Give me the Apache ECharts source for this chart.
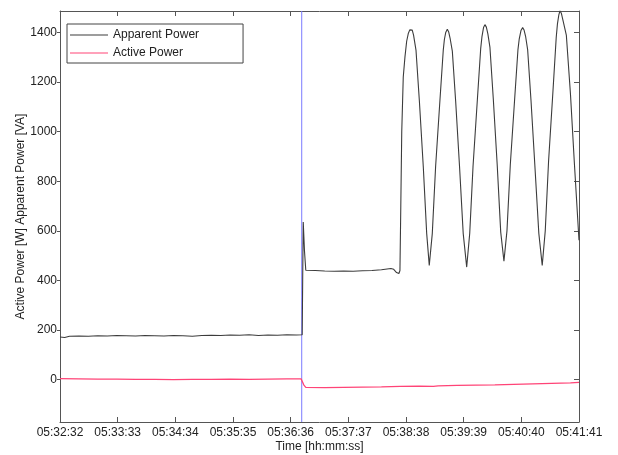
<!DOCTYPE html>
<html>
<head>
<meta charset="utf-8">
<script src="https://cdn.jsdelivr.net/npm/echarts@6/dist/echarts.min.js"></script>
<style>html,body{margin:0;padding:0;background:#fff}#c{width:618px;height:455px}</style>
</head>
<body>
<div id="c"></div>
<script>
// time axis: seconds after 05:32:32
const xTickLabels = ['05:32:32','05:33:33','05:34:34','05:35:35','05:36:36','05:37:37','05:38:38','05:39:39','05:40:40','05:41:41'];
const yTickValues = [0,200,400,600,800,1000,1200,1400];
const eventTime = 255.7;
const yMin = -171;
const yMax = 1487;

const apparentPower = [
 [0,172],[5,170],[10,175],[20,176],[30,175],[40,177],[50,176],[60,178],[70,177],[80,176],[90,178],[100,177],
 [110,176],[120,178],[130,177],[140,175],[150,178],[160,179],[170,178],[180,180],[190,179],[200,181],[210,178],
 [220,180],[230,179],[240,181],[250,180],[256.2,181],
 [256.7,400],[257.3,636],[258.6,520],[260,441],[270,440],[280,438],[290,437],[300,438],[310,437],[320,439],
 [330,440],[340,443],[350,448],[353,445],[356,432],[358.5,428],[359.6,440],
 [360.5,700],[361.5,1000],[363.1,1221],[364.9,1302],[366.7,1365],[368.4,1396],[370,1411],[371.3,1416],
 [372.6,1410],[374,1390],[376.6,1328],[380.1,1127],[384.3,858],[387.9,589],[390.6,461],
 [393.8,589],[397.3,858],[401.9,1127],[405.4,1328],[406.6,1372],[408,1400],[409.7,1413],
 [411.2,1402],[412.6,1378],[415,1325],[418.5,1125],[422.7,855],[426.5,590],[430.2,454],
 [433.4,590],[436.9,860],[441.5,1130],[445,1335],[446.4,1385],[448,1420],[449.5,1432],
 [451,1422],[452.6,1395],[454.8,1340],[458.3,1135],[462.5,865],[466.2,595],[469.6,478],
 [472.8,600],[476.3,865],[480.9,1130],[484.4,1330],[485.8,1375],[487.6,1408],[489.4,1420],
 [490.9,1410],[492.5,1385],[494.7,1330],[498.2,1128],[502.4,858],[506.5,590],[510.1,461],
 [513.3,600],[516.8,880],[521.4,1160],[524.9,1380],[526.2,1435],[527.6,1470],[528.9,1488],
 [530.3,1478],[532,1450],[535.6,1390],[540,1150],[544,880],[549,562]
];

const activePower = [
 [0,4],[20,3],[40,2],[60,2],[80,1],[100,1],[120,0],[140,1],[160,1],[180,2],[200,1],[220,2],[240,3],[255,3],
 [256.5,0],[258,-22],[260,-31],[280,-32],[300,-31],[320,-30],[340,-29],[360,-27],[380,-26],[395,-27],[400,-25],
 [420,-23],[440,-22],[460,-21],[480,-19],[500,-17],[520,-15],[540,-13],[549,-11]
];

const chart = echarts.init(document.getElementById('c'));
const axisColor = '#555';
const font = 'Liberation Sans, Arial, sans-serif';
chart.setOption({
  animation: false,
  backgroundColor: '#fff',
  grid: {left: 60, top: 11, right: 39, bottom: 33, containLabel: false, outerBoundsMode: 'none'},
  legend: {
    show: true,
    left: 67, top: 24, orient: 'vertical',
    padding: [4, 44, 3, 3], itemGap: 4,
    itemWidth: 38, itemHeight: 1, icon: 'rect',
    borderColor: '#444', borderWidth: 1, backgroundColor: '#fff',
    textStyle: {fontFamily: font, fontSize: 12, color: '#222', lineHeight: 14},
    data: ['Apparent Power', 'Active Power']
  },
  xAxis: [{
    type: 'value', min: 0, max: 549, interval: 61,
    name: 'Time [hh:mm:ss]', nameLocation: 'middle', nameGap: 19, nameMoveOverlap: false,
    nameTextStyle: {fontFamily: font, fontSize: 12, color: '#222'},
    axisLine: {show: true, onZero: false, lineStyle: {color: axisColor}},
    axisTick: {show: true, inside: true, length: 5, lineStyle: {color: axisColor}},
    axisLabel: {fontFamily: font, fontSize: 12, color: '#222', margin: 5,
      formatter: v => xTickLabels[Math.round(v / 61)] || ''},
    splitLine: {show: false}
  }, {
    type: 'value', min: 0, max: 549, interval: 61, position: 'top',
    axisLine: {show: true, onZero: false, lineStyle: {color: axisColor}},
    axisTick: {show: true, inside: true, length: 5, lineStyle: {color: axisColor}},
    axisLabel: {show: false}, splitLine: {show: false}
  }],
  yAxis: [{
    type: 'value', min: yMin, max: yMax,
    name: 'Active Power [W] Apparent Power [VA]', nameLocation: 'middle', nameGap: 33, nameMoveOverlap: false,
    nameTextStyle: {fontFamily: font, fontSize: 12, color: '#222'},
    axisLine: {show: true, onZero: false, lineStyle: {color: axisColor}},
    axisTick: {show: true, inside: false, length: 3, customValues: yTickValues, lineStyle: {color: axisColor}},
    axisLabel: {fontFamily: font, fontSize: 12, color: '#222', margin: 3, customValues: yTickValues,
      formatter: v => String(v)},
    splitLine: {show: false}
  }, {
    type: 'value', min: yMin, max: yMax, position: 'right',
    axisLine: {show: true, onZero: false, lineStyle: {color: axisColor}},
    axisTick: {show: true, inside: true, length: 5, customValues: yTickValues, lineStyle: {color: axisColor}},
    axisLabel: {show: false}, splitLine: {show: false}
  }],
  series: [{
    name: 'event', type: 'line', z: 1, symbol: 'none', silent: true,
    data: [[eventTime, yMin], [eventTime, yMax]],
    lineStyle: {color: '#7a7aff', width: 1, type: 'solid'}, itemStyle: {color: '#7a7aff'}
  }, {
    name: 'Apparent Power', type: 'line', data: apparentPower, symbol: 'none',
    clip: true, z: 3,
    lineStyle: {color: '#3c3c3c', width: 1.1}, itemStyle: {color: '#3c3c3c'}
  }, {
    name: 'Active Power', type: 'line', data: activePower, symbol: 'none', z: 3,
    lineStyle: {color: '#ff4477', width: 1.3}, itemStyle: {color: '#ff4477'}
  }]
});
</script>
</body>
</html>
